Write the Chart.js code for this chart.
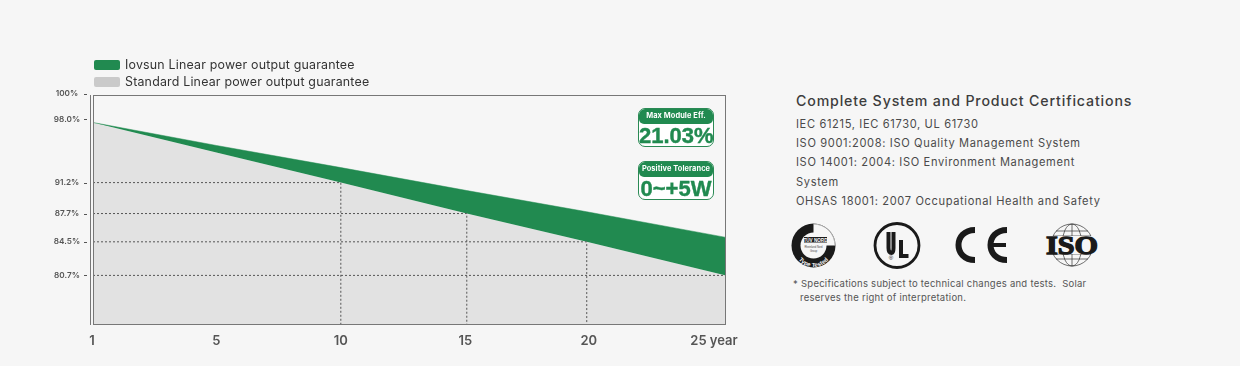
<!DOCTYPE html>
<html><head><meta charset="utf-8">
<script src="https://cdn.jsdelivr.net/npm/chart.js@4/dist/chart.umd.js"></script>
<style>
html,body{margin:0;padding:0;background:#f6f6f6;width:1240px;height:366px;overflow:hidden;font-family:Inter,"Open Sans",sans-serif}
#wrap{position:absolute;left:0;top:0;width:760px;height:366px}
.swatch{position:absolute;left:94px;width:26px;height:10px;border-radius:2px}
.leg{position:absolute;left:125px;font-size:12.4px;color:#333;letter-spacing:.2px;line-height:16px;white-space:nowrap}
.badge{position:absolute;left:638px;width:76px;height:39px;box-sizing:border-box;border:1px solid #2b8a55;border-radius:7px;background:#fff;overflow:hidden;text-align:center}
.badge .h{background:#218a50;color:#fff;font-size:7.4px;font-weight:700;height:15px;line-height:14px;border-radius:0 0 5px 5px;white-space:nowrap;letter-spacing:.1px}
.badge .v{color:#218a50;font:700 22px/24px "Liberation Sans",Arial,sans-serif;white-space:nowrap;-webkit-text-stroke:.4px #218a50}
#cert div{position:absolute;left:796px;font-size:11.1px;color:#4a4a4a;letter-spacing:.64px;line-height:14px;white-space:nowrap;font-weight:400}
#cert .t{font-size:14.2px;color:#3d3d3d;letter-spacing:.84px;line-height:18px;font-weight:500}
.fn{position:absolute;font-size:9.5px;color:#555;white-space:nowrap;line-height:12px;letter-spacing:.26px}
svg{position:absolute;left:780px;top:215px}
</style></head>
<body>
<div id="wrap"><canvas id="c" width="760" height="366"></canvas></div>
<div id="legend"></div>
<div class="badge" style="top:108px"><div class="h">Max Module Eff.</div><div class="v">21.03%</div></div>
<div class="badge" style="top:161px"><div class="h">Positive Tolerance</div><div class="v">0~+5W</div></div>
<div id="cert"></div>
<div class="fn" style="left:793px;top:278px">* Specifications subject to technical changes and tests.&nbsp; Solar</div>
<div class="fn" style="left:800px;top:292px">reserves the right of interpretation.</div>
<svg width="340" height="60" viewBox="780 215 340 60">
  <defs><path id="arc" d="M 794.5 248 A 19 19 0 0 0 832.5 248"/></defs>
  <circle cx="813.5" cy="245.5" r="22" fill="#1a1a1a"/>
  <path d="M813.5 245.5 L813.5 223.5 A22 22 0 0 1 835.5 245.5 Z" fill="#f6f6f6"/>
  <path d="M813.5 224 A21.5 21.5 0 0 1 835 245.5" fill="none" stroke="#777" stroke-width=".6"/>
  <circle cx="813.5" cy="245.5" r="13" fill="#f6f6f6"/>
  <rect x="804" y="237" width="23" height="5.5" fill="#1a1a1a"/>
  <text x="815.5" y="241.6" text-anchor="middle" font-family="Liberation Sans" font-size="4.6" font-weight="700" fill="#fff">TÜV NORD</text>
  <text x="813.5" y="248" text-anchor="middle" font-family="Liberation Sans" font-size="2.6" fill="#444">Rheinland Nord</text>
  <text x="813.5" y="252" text-anchor="middle" font-family="Liberation Sans" font-size="2.6" fill="#444">Group</text>
  <text font-family="Liberation Sans" font-size="6" font-weight="700" fill="#f6f6f6"><textPath href="#arc" startOffset="50%" text-anchor="middle">Type Tested</textPath></text>
  <circle cx="897" cy="245.5" r="22" fill="none" stroke="#1a1a1a" stroke-width="2.8"/>
  <path d="M888.5 232V248Q888.5 253 891.5 253Q893.5 253 893.5 248V232" fill="none" stroke="#1a1a1a" stroke-width="4"/>
  <path d="M901 240V256H908.5" fill="none" stroke="#1a1a1a" stroke-width="4"/>
  <text x="891" y="260" text-anchor="middle" font-family="Liberation Sans" font-size="6" fill="#1a1a1a">®</text>
  <path d="M975 230C953 230 953 260 975 260" fill="none" stroke="#1a1a1a" stroke-width="6"/>
  <path d="M1007 230C985 230 985 260 1007 260" fill="none" stroke="#1a1a1a" stroke-width="6"/>
  <path d="M992 245H1006" fill="none" stroke="#1a1a1a" stroke-width="4"/>
  <g fill="none" stroke="#333" stroke-width=".7">
    <circle cx="1072" cy="245" r="21"/>
    <ellipse cx="1072" cy="245" rx="10" ry="21"/>
    <path d="M1072 224V266M1056 231H1088M1053 236H1091M1053 254H1091M1056 259H1088"/>
  </g>
  <rect x="1046" y="236" width="53" height="18" fill="#f6f6f6"/>
  <text x="1072" y="254" text-anchor="middle" font-family="Liberation Serif" font-size="25.5" font-weight="700" fill="#1a1a1a" stroke="#1a1a1a" stroke-width="1.3" textLength="52" lengthAdjust="spacingAndGlyphs">ISO</text>
</svg>
<script>
const seriesNames = ['Iovsun Linear power output guarantee', 'Standard Linear power output guarantee'];
const years = [1, 5, 10, 15, 20, 25];
const iovsunValues = [98, 95.4, 92.9, 90.3, 87.9, 85.0];
const standardValues = [98, 94.6, 91.2, 87.7, 84.5, 80.7];
const yTickValues = [100, 98, 91.2, 87.7, 84.5, 80.7];
const xTickLabels = ['1', '5', '10', '15', '20', '25 year'];
const refYears = [10, 15, 20, 25];
const refValues = [91.2, 87.7, 84.5, 80.7];
const certTitle = 'Complete System and Product Certifications';
const certLines = ['IEC 61215, IEC 61730, UL 61730','ISO 9001:2008: ISO Quality Management System','ISO 14001: 2004: ISO Environment Management','System','OHSAS 18001: 2007 Occupational Health and Safety'];

const GREEN = '#218a50', GREY = '#e2e2e2', AXIS = '#777';
const yearFractions = [0, .195, .3915, .5905, .78, 1];
const yMin = 75.2, yMax = 101;

class YearScale extends Chart.LinearScale {
  static id = 'yearScale';
  getPixelForValue(v) {
    let i = 0;
    while (i < years.length - 2 && v > years[i + 1]) i++;
    const t = (v - years[i]) / (years[i + 1] - years[i]);
    return this.getPixelForDecimal(yearFractions[i] + t * (yearFractions[i + 1] - yearFractions[i]));
  }
  _computeLabelItems(area) {
    const items = super._computeLabelItems(area);
    const shifts = [-1, 0, 0, -1.5, 2, -12];
    items.forEach((it, i) => {
      it.options.translation = [it.options.translation[0] + shifts[i], it.options.translation[1]];
    });
    return items;
  }
}
class PercentScale extends Chart.LinearScale {
  static id = 'percentScale';
  _computeLabelItems(area) {
    const items = super._computeLabelItems(area);
    items.forEach(it => {
      const v = parseFloat(it.label);
      const shift = v === 100 ? -11 : (v === 98 ? -2.5 : 0);
      it.options.translation = [67, it.options.translation[1] + shift];
      it.options.textAlign = 'center';
    });
    return items;
  }
}
Chart.register(YearScale, PercentScale);

const frame = {
  id: 'frame',
  beforeDatasetsDraw(chart) {
    const {ctx, chartArea: a} = chart;
    ctx.save();
    ctx.strokeStyle = AXIS; ctx.lineWidth = 1;
    ctx.beginPath();
    ctx.moveTo(90.5, a.top - 1); ctx.lineTo(90.5, a.bottom + 1);
    ctx.stroke();
    ctx.restore();
  },
  afterDatasetsDraw(chart) {
    const {ctx, chartArea: a, scales: {y}} = chart;
    ctx.save();
    ctx.strokeStyle = AXIS; ctx.lineWidth = 1;
    ctx.strokeRect(a.left + .5, a.top - .5, a.right - a.left - 1, a.bottom - a.top + 1);
    ctx.strokeStyle = '#555';
    y.ticks.forEach(t => {
      let py = y.getPixelForValue(t.value);
      py += t.value === 100 ? -10.5 : (t.value === 98 ? -3.5 : 0);
      py = Math.round(py) + .5;
      ctx.beginPath(); ctx.moveTo(84, py); ctx.lineTo(87, py); ctx.stroke();
    });
    ctx.restore();
  }
};

const refSets = refValues.map((v, i) => ({
  label: 'ref' + refYears[i],
  data: [{x: 1, y: v}, {x: refYears[i], y: v}, {x: refYears[i], y: yMin}],
  borderColor: '#555', borderWidth: 1, borderDash: [2, 2], pointRadius: 0, fill: false, tension: 0, order: 0
}));

new Chart(document.getElementById('c'), {
  type: 'line',
  data: {
    datasets: [
      {label: seriesNames[0], data: years.map((x, i) => ({x, y: iovsunValues[i]})), borderColor: GREEN, borderWidth: 0.5,
       backgroundColor: GREEN, fill: '+1', pointRadius: 0, tension: 0, order: 2},
      {label: seriesNames[1], data: years.map((x, i) => ({x, y: standardValues[i]})), borderColor: GREY, borderWidth: 0,
       backgroundColor: GREY, fill: 'start', pointRadius: 0, tension: 0, order: 3},
      ...refSets
    ]
  },
  options: {
    responsive: false, animation: false, events: [],
    layout: {padding: {left: 0, top: 96, right: 34, bottom: 0}},
    plugins: {legend: {display: false}, tooltip: {enabled: false}},
    scales: {
      x: {
        type: 'yearScale', min: 1, max: 25,
        grid: {display: false}, border: {display: false},
        afterBuildTicks(s) { s.ticks = years.map(value => ({value})); },
        afterFit(s) { s.height = 42; },
        ticks: {
          autoSkip: false, maxRotation: 0, color: '#555', padding: 1,
          font: {family: 'Inter', size: 13, weight: '600'},
          callback: (v) => xTickLabels[years.indexOf(v)]
        }
      },
      y: {
        type: 'percentScale', min: yMin, max: yMax,
        grid: {display: false}, border: {display: false},
        afterBuildTicks(s) { s.ticks = yTickValues.map(value => ({value})); },
        afterFit(s) { s.width = 93; },
        ticks: {
          autoSkip: false, color: '#555', padding: 0,
          font: {family: 'Inter', size: 8.2, weight: '600'},
          callback: v => v === 100 ? '100%' : v.toFixed(1) + '%'
        }
      }
    }
  },
  plugins: [frame]
});

const legend = document.getElementById('legend');
[[GREEN, 60], ['#cacaca', 77]].forEach(([color, top], i) => {
  legend.insertAdjacentHTML('beforeend',
    `<div class="swatch" style="top:${top}px;background:${color}"></div><div class="leg" style="top:${top - 3}px">${seriesNames[i]}</div>`);
});
const cert = document.getElementById('cert');
cert.insertAdjacentHTML('beforeend', `<div class="t" style="top:92px">${certTitle}</div>`);
[117, 136, 155, 175, 194].forEach((top, i) => {
  cert.insertAdjacentHTML('beforeend', `<div style="top:${top}px">${certLines[i]}</div>`);
});
</script>
</body></html>
